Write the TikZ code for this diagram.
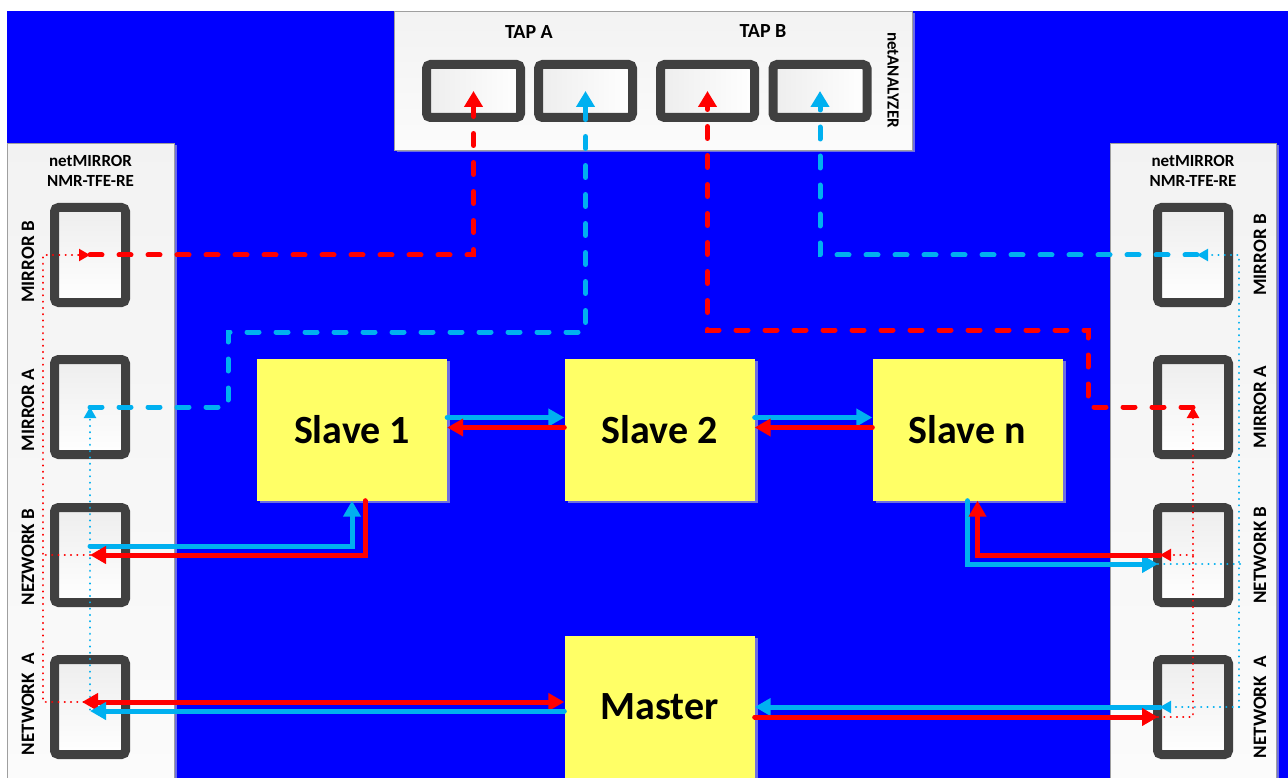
\documentclass[tikz,border=0pt]{standalone}
\usepackage{fontspec}
\setmainfont{Carlito}
\usepackage{tikz}
\usetikzlibrary{arrows.meta, shadows}
\definecolor{fondo}{RGB}{0,0,255}
\definecolor{celeste}{RGB}{0,176,240}
\definecolor{rojo}{RGB}{255,0,0}
\definecolor{amarillo}{RGB}{255,255,102}
\definecolor{marco}{RGB}{64,64,64}
\definecolor{sombra}{RGB}{110,110,225}
\tikzset{
  punta/.tip={Triangle[width=17pt, length=16pt]},
  puntag/.tip={Triangle[width=18pt, length=16pt]},
  puntap/.tip={Triangle[width=12pt, length=11pt]},
  equipo/.style={rectangle, draw=gray!75, top color=gray!10, bottom color=gray!3,
    inner sep=0pt, anchor=north west,
    drop shadow={shadow xshift=3pt, shadow yshift=-2pt, fill=sombra, opacity=1}},
  puertov/.style={rectangle, rounded corners=4pt, draw=marco, line width=9pt,
    minimum width=71pt, minimum height=95pt, top color=gray!14, bottom color=white,
    inner sep=0pt},
  puertoh/.style={puertov, minimum width=94pt, minimum height=53pt,
    left color=gray!14, right color=white},
  esclavo/.style={rectangle, fill=amarillo, minimum width=190pt, minimum height=142pt,
    font=\fontsize{40}{44}\selectfont\bfseries,
    drop shadow={shadow xshift=3pt, shadow yshift=-2pt, fill=sombra, opacity=1}},
  etiq/.style={font=\fontsize{19}{22}\selectfont\bfseries, rotate=90},
  titulo/.style={font=\fontsize{17}{20}\selectfont\bfseries, align=center},
  rotulo/.style={font=\fontsize{20}{24}\selectfont\bfseries},
  flecha/.style={line width=5pt, line cap=round, -{punta}},
  guion/.style={line width=5pt, line cap=round, dash pattern=on 12pt off 17pt, -{puntag}},
  punteo/.style={line width=2.2pt, line cap=round, dash pattern=on 0.1pt off 6.2pt}
}
\begin{document}
\begin{tikzpicture}[x=1pt, y=-1pt]
  \useasboundingbox (0,0) rectangle (1288,778);
  \fill[white] (0,0) rectangle (1288,778);
  \fill[fondo] (7,11) rectangle (1288,778);

  \node[equipo, minimum width=518pt, minimum height=139pt] (ana) at (394,11) {};
  \node[equipo, minimum width=167pt, minimum height=660pt] (izq) at (7,143) {};
  \node[equipo, minimum width=166pt, minimum height=660pt] (der) at (1110,143) {};

  \node[rotulo] (tapa) at (529,32) {TAP A};
  \node[rotulo] (tapb) at (763,31) {TAP B};
  \node[titulo, rotate=-90] (tana) at (893,80) {netANALYZER};
  \node[titulo] (tizq) at (90.5,171) {netMIRROR\\NMR-TFE-RE};
  \node[titulo] (tder) at (1193,171) {netMIRROR\\NMR-TFE-RE};

  \node[puertoh] (ta1) at (473.5,91) {};
  \node[puertoh] (ta2) at (585.5,91) {};
  \node[puertoh] (tb1) at (707.5,91) {};
  \node[puertoh] (tb2) at (820,91) {};

  \node[puertov] (lmb) at (90,255) {};
  \node[puertov] (lma) at (90,407) {};
  \node[puertov] (lnb) at (90,555) {};
  \node[puertov] (lna) at (90,707) {};
  \node[puertov] (rmb) at (1193,255) {};
  \node[puertov] (rma) at (1193,407) {};
  \node[puertov] (rnb) at (1193,555) {};
  \node[puertov] (rna) at (1193,707) {};

  \node[etiq] (elmb) at (28,262) {MIRROR B};
  \node[etiq] (elma) at (28,410) {MIRROR A};
  \node[etiq] (elnb) at (28,557) {NEZWORK B};
  \node[etiq] (elna) at (28,704) {NETWORK\ \ A};
  \node[etiq] (ermb) at (1260,255) {MIRROR B};
  \node[etiq] (erma) at (1260,407) {MIRROR A};
  \node[etiq] (ernb) at (1260,555) {NETWORK B};
  \node[etiq] (erna) at (1260,707) {NETWORK\ \ A};

  \node[esclavo] (s1) at (352,429.5) {Slave 1};
  \node[esclavo] (s2) at (659.5,429.5) {Slave 2};
  \node[esclavo] (sn) at (967.5,429.5) {Slave n};
  \node[esclavo] (m) at (659.5,707) {Master};

  \coordinate (tri) at (43,255);
  \coordinate (qa) at (228,332);
  \coordinate (qb) at (1088,330);
  \coordinate (tbd) at (1239,707);

  \draw[punteo, draw=rojo, -{puntap}] ([yshift=5pt]lna.center) -| (tri) -- (lmb.center);
  \draw[punteo, draw=rojo] (lnb.center) -- (tri |- lnb.center);
  \draw[punteo, draw=celeste, -{puntap}] ([xshift=30pt, yshift=-4pt]lna.center) -| (lma.center);
  \draw[punteo, draw=rojo, -{puntap}] ([xshift=-35pt, yshift=-10pt]rna.center) -| (rma.center);
  \draw[punteo, draw=rojo, -{puntap}] (rnb.center) -- ([xshift=-33pt]rnb.center);
  \draw[punteo, draw=celeste, -{puntap}] (tbd) -- ([xshift=-33pt]rna.center);
  \draw[punteo, draw=celeste, -{puntap}] (tbd) |- ([xshift=4pt]rmb.center);
  \draw[punteo, draw=celeste] ([xshift=-35pt, yshift=-9pt]rnb.center)
    -- ([xshift=50pt, yshift=-9pt]rnb.center);

  \draw[guion, draw=rojo] (lmb.center) -| (ta1.center);
  \draw[guion, draw=celeste] (lma.center) -| (qa) -| (ta2.center);
  \draw[guion, draw=rojo] (rma.center) -| (qb) -| (tb1.center);
  \draw[guion, draw=celeste] ([xshift=4pt]rmb.center) -| (tb2.center);

  \draw[flecha, draw=celeste] ([yshift=12pt]s1.east) -- ([yshift=12pt]s2.west);
  \draw[flecha, draw=rojo] ([yshift=2pt]s2.west) -- ([yshift=2pt]s1.east);
  \draw[flecha, draw=celeste] ([yshift=12pt]s2.east) -- ([yshift=12pt]sn.west);
  \draw[flecha, draw=rojo] ([yshift=2pt]sn.west) -- ([yshift=2pt]s2.east);
  \draw[flecha, draw=celeste] ([yshift=9pt]lnb.center) -| (s1.south);
  \draw[flecha, draw=rojo] ([xshift=13pt]s1.south) |- (lnb.center);
  \draw[flecha, draw=celeste] (sn.south) |- ([xshift=-35pt, yshift=-9pt]rnb.center);
  \draw[flecha, draw=rojo] ([xshift=-33pt]rnb.center) -| ([xshift=10pt]sn.south);
  \draw[flecha, draw=rojo, {punta}-{punta}] ([yshift=5pt]m.west) -- ([xshift=-8pt, yshift=5pt]lna.center);
  \draw[flecha, draw=celeste] ([yshift=-4pt]m.west) -- ([yshift=-4pt]lna.center);
  \draw[flecha, draw=celeste] ([xshift=-33pt]rna.center) -- (m.east);
  \draw[flecha, draw=rojo] ([yshift=-10pt]m.east) -- ([xshift=-35pt, yshift=-10pt]rna.center);
\end{tikzpicture}
\end{document}
